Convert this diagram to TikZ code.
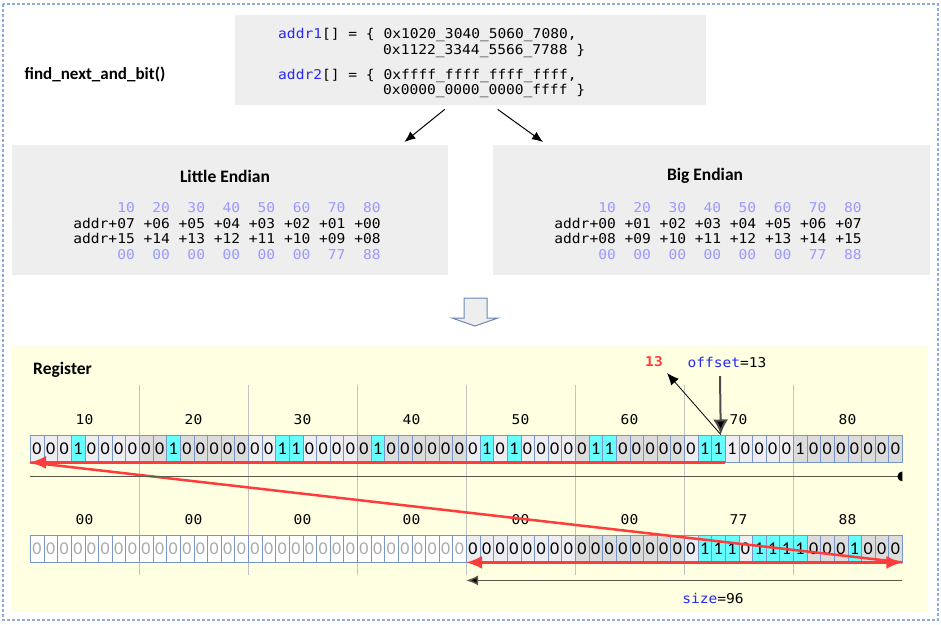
\documentclass[tikz,border=0pt]{standalone}
\usepackage{fontspec}
\setmainfont{Carlito}
\newfontfamily\codefont{DejaVu Sans Mono}[FakeStretch=1.08]
\usepackage{tikz}
\usetikzlibrary{arrows.meta}
\usetikzlibrary{positioning}

\definecolor{framecol}{RGB}{143,170,220}
\definecolor{panelgrey}{RGB}{238,238,238}
\definecolor{regbg}{RGB}{255,255,225}
\definecolor{codeblue}{RGB}{40,40,240}
\definecolor{tablepurple}{RGB}{153,153,255}
\definecolor{cellblue}{RGB}{120,150,200}
\definecolor{celllight}{RGB}{238,238,242}
\definecolor{cellgrey}{RGB}{220,220,220}
\definecolor{bitcyan}{RGB}{102,255,255}
\definecolor{fadetext}{RGB}{170,170,170}
\definecolor{markred}{RGB}{255,60,60}
\definecolor{sepgrey}{RGB}{195,195,195}
\definecolor{rulecol}{RGB}{90,90,75}

\tikzset{
    frame/.style = {draw=framecol,line width=1.5pt,dash pattern=on 3pt off 2pt},
    panel/.style = {fill=panelgrey,anchor=north west,inner sep=0},
    code/.style = {font=\codefont\fontsize{13.5}{15.7}\selectfont,inner sep=0},
    title/.style = {font=\bfseries\fontsize{17.5}{20}\selectfont,inner sep=0},
    bitbox/.style = {draw=cellblue,anchor=north west,minimum width=13.625pt,minimum height=27.5pt,inner sep=0,font=\fontsize{18}{18}\selectfont},
    sep/.style = {draw=sepgrey,line width=1pt},
    pointer/.style = {line width=1pt,-{Latex[length=11pt,width=9pt]}}
}
\tikzset{
    redarrow/.style = {draw=markred,line width=2.5pt,-{Latex[length=16pt,width=13pt]}},
    redline/.style = {draw=markred,line width=2.5pt},
    offarrow/.style = {draw=black!70,line width=2pt,-{Latex[length=15pt,width=15pt,fill=black]}},
    sizearrow/.style = {draw=rulecol,line width=1.5pt,-{Latex[length=12pt,width=10pt,fill=black]}}
}

\begin{document}
\begin{tikzpicture}[x=1pt,y=-1pt]
        \newcommand*\cellw{13.625}
        \newcommand*\rowx{30}
        \useasboundingbox (0,0) rectangle (941,624);
        % Frame
        \draw[frame] (3,4) rectangle (938,620);
        % Input arrays
        \node[panel,minimum width=471pt,minimum height=90pt] (src) at (235,15) {};
        \node[code,anchor=base west] (a1) at (278,38)
            {\textcolor{codeblue}{addr1}[] = \{ 0x1020\_3040\_5060\_7080,};
        \node[code,anchor=base west] (a1b) at (383,54) {0x1122\_3344\_5566\_7788 \}};
        \node[code,anchor=base west] (a2) at (278,79)
            {\textcolor{codeblue}{addr2}[] = \{ 0xffff\_ffff\_ffff\_ffff,};
        \node[code,anchor=base west] (a2b) at (383,94) {0x0000\_0000\_0000\_ffff \}};
        \node[title,font=\bfseries\fontsize{17}{19}\selectfont] (fn) at (95,74) {find\_next\_and\_bit()};
        % Byte orders
        \node[panel,minimum width=436pt,minimum height=130pt] (little) at (12,145) {};
        \node[panel,minimum width=437pt,minimum height=130pt] (big) at (493,145) {};
        \node[title] (lt) at (225,176) {Little Endian};
        \node[title] (bt) at (705,176) {Big Endian};
        \node[code,align=right] (ltab) at (227,231) {%
            \textcolor{tablepurple}{\phantom{addr+}10 \phantom{+}20 \phantom{+}30 \phantom{+}40 \phantom{+}50 \phantom{+}60 \phantom{+}70 \phantom{+}80}\\
            addr+07 +06 +05 +04 +03 +02 +01 +00\\
            addr+15 +14 +13 +12 +11 +10 +09 +08\\
            \textcolor{tablepurple}{\phantom{addr+}00 \phantom{+}00 \phantom{+}00 \phantom{+}00 \phantom{+}00 \phantom{+}00 \phantom{+}77 \phantom{+}88}};
        \node[code,align=right] (btab) at (708,231) {%
            \textcolor{tablepurple}{\phantom{addr+}10 \phantom{+}20 \phantom{+}30 \phantom{+}40 \phantom{+}50 \phantom{+}60 \phantom{+}70 \phantom{+}80}\\
            addr+00 +01 +02 +03 +04 +05 +06 +07\\
            addr+08 +09 +10 +11 +12 +13 +14 +15\\
            \textcolor{tablepurple}{\phantom{addr+}00 \phantom{+}00 \phantom{+}00 \phantom{+}00 \phantom{+}00 \phantom{+}00 \phantom{+}77 \phantom{+}88}};
        \draw[pointer] ([xshift=-26pt,yshift=-4pt]src.south) to ([xshift=-44pt,yshift=3pt]little.north east);
        \draw[pointer] ([xshift=27pt,yshift=-4pt]src.south) to ([xshift=50pt,yshift=3pt]big.north west);
        % Flow arrow
        \draw[draw=cellblue!90!black,fill=panelgrey,line width=1pt]
            (464,298) -- (487,298) -- (487,318) -- (498,318) -- (475,326) -- (452,318) -- (464,318) -- cycle;
        % Register
        \node[fill=regbg,anchor=north west,minimum width=916pt,minimum height=267pt,inner sep=0] (reg) at (12,345) {};
        \node[title,anchor=west] (rt) at (33,370) {Register};
        \foreach \k in {1,...,7}
            \draw[sep] ({\rowx+\k*8*\cellw},385) -- ({\rowx+\k*8*\cellw},575);
        % Byte labels
        \foreach \v [count=\k from 0] in {10,20,30,40,50,60,70,80}
            \node[code] (u\k) at ({\rowx+(\k+0.5)*8*\cellw},420) {\v};
        \foreach \v [count=\k from 0] in {00,00,00,00,00,00,77,88}
            \node[code] (l\k) at ({\rowx+(\k+0.5)*8*\cellw},520) {\v};
        % Upper word
        \foreach \b [count=\i from 0] in {0,0,0,1,0,0,0,0, 0,0,1,0,0,0,0,0, 0,0,1,1,0,0,0,0, 0,1,0,0,0,0,0,0,
                                          0,1,0,1,0,0,0,0, 0,1,1,0,0,0,0,0, 0,1,1,1,0,0,0,0, 1,0,0,0,0,0,0,0} {
            \pgfmathtruncatemacro\odd{mod(div(\i,8),2)}
            \ifnum\odd=1 \def\cf{cellgrey}\else\def\cf{celllight}\fi
            \ifnum\b=1 \ifnum\i<51 \def\cf{bitcyan}\fi\fi
            \node[bitbox,fill=\cf] (r\i) at ({\rowx+\i*\cellw},434.5) {\b};
        }
        % Lower word
        \foreach \b [count=\i from 0] in {0,0,0,0,0,0,0,0, 0,0,0,0,0,0,0,0, 0,0,0,0,0,0,0,0, 0,0,0,0,0,0,0,0,
                                          0,0,0,0,0,0,0,0, 0,0,0,0,0,0,0,0, 0,1,1,1,0,1,1,1, 1,0,0,0,1,0,0,0} {
            \pgfmathtruncatemacro\odd{mod(div(\i,8),2)}
            \ifnum\odd=1 \def\cf{cellgrey}\else\def\cf{celllight}\fi
            \ifnum\b=1 \def\cf{bitcyan}\fi
            \ifnum\i<32
                \node[bitbox,fill=white,text=fadetext] (s\i) at ({\rowx+\i*\cellw},534.5) {\b};
            \else
                \node[bitbox,fill=\cf] (s\i) at ({\rowx+\i*\cellw},534.5) {\b};
            \fi
        }
        % Offset
        \node[code] (off) at (727,362) {\textcolor{codeblue}{offset}=13};
        \node[code,font=\codefont\bfseries\fontsize{13.5}{15}\selectfont,text=markred] (hit) at (654,362) {13};
        \coordinate (ptr) at ([xshift=2.5pt]r50.north);
        \coordinate (offtop) at (720,376);
        \coordinate (hittip) at (667,373);
        \draw[offarrow] (offtop) to (ptr);
        \draw[line width=0.8pt,-{Latex[length=12pt,width=10pt]}] (ptr) to (hittip);
        % Scan
        \draw[redarrow] (r50.south east) to (r0.south west);
        \draw[redline] (r0.south west) to (s63.south east);
        \draw[redarrow,{Latex[length=16pt,width=13pt]}-{Latex[length=16pt,width=13pt]}] (s32.south west) to (s63.south east);
        % Ranges
        \coordinate (lo) at ([yshift=-14pt]r0.south west);
        \coordinate (hi) at ([yshift=-14pt]r63.south east);
        \draw[draw=rulecol,line width=1.5pt] (lo) to (hi);
        \begin{scope}
            \clip ([xshift=-8pt,yshift=-8pt]hi) rectangle ([yshift=8pt]hi);
            \fill (hi) circle (5);
        \end{scope}
        \draw[sizearrow] ([yshift=-18pt]s63.south east) to ([yshift=-18pt]s32.south west);
        \node[code] (size) at (713,598) {\textcolor{codeblue}{size}=96};
    \end{tikzpicture}
\end{document}
